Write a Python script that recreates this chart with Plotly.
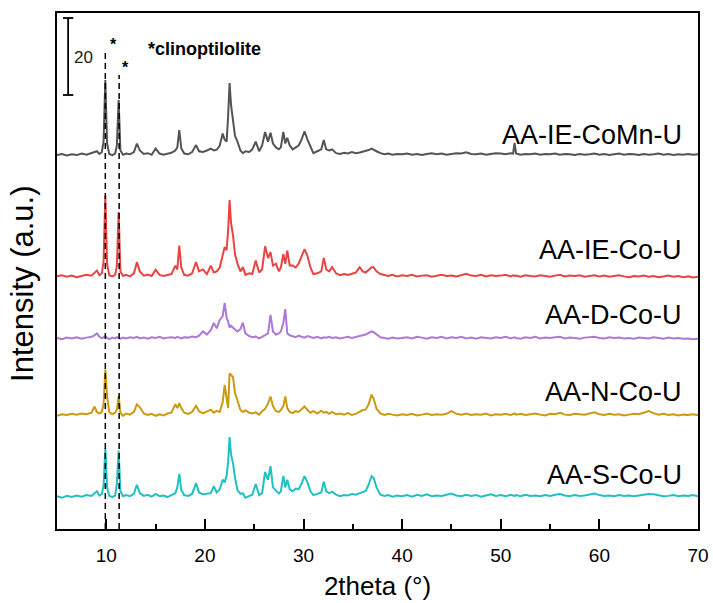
import plotly.graph_objects as go

# ---------------- data ----------------
two_theta = [
    5.0, 5.5, 6.0, 6.5, 7.0, 7.5, 8.0, 8.5, 8.8, 9.05,
    9.3, 9.55, 9.72, 9.9, 10.08, 10.3, 10.6, 10.9, 11.07, 11.25,
    11.43, 11.7, 12.0, 12.4, 12.8, 13.1, 13.4, 13.8, 14.2, 14.6,
    15.0, 15.4, 15.8, 16.2, 16.6, 17.0, 17.2, 17.4, 17.6, 17.9,
    18.3, 18.7, 19.1, 19.4, 19.8, 20.2, 20.6, 20.9, 21.2, 21.5,
    21.8, 22.0, 22.2, 22.35, 22.5, 22.65, 22.85, 23.05, 23.3, 23.6,
    23.85, 24.1, 24.5, 24.8, 25.15, 25.5, 25.8, 26.1, 26.4, 26.65,
    26.9, 27.2, 27.5, 27.7, 27.95, 28.15, 28.35, 28.6, 28.9, 29.2,
    29.5, 29.8, 30.1, 30.4, 30.7, 31.0, 31.4, 31.8, 32.05, 32.3,
    32.6, 32.9, 33.3, 33.7, 34.1, 34.5, 34.9, 35.3, 35.7, 36.0,
    36.3, 36.6, 36.9, 37.1, 37.4, 37.8, 38.2, 38.6, 39.0, 39.5,
    40.0, 40.5, 41.0, 41.5, 42.0, 42.5, 43.0, 43.5, 44.0, 44.5,
    45.0, 45.5, 46.0, 46.5, 47.0, 47.5, 48.0, 48.5, 49.0, 49.5,
    50.0, 50.5, 51.0, 51.25, 51.4, 51.55, 52.0, 52.5, 53.0, 53.5,
    54.0, 54.5, 55.0, 55.5, 56.0, 56.5, 57.0, 57.5, 58.0, 58.5,
    59.0, 59.5, 60.0, 60.5, 61.0, 61.5, 62.0, 62.5, 63.0, 63.5,
    64.0, 64.5, 65.0, 65.5, 66.0, 66.5, 67.0, 67.5, 68.0, 68.5,
    69.0, 69.5, 70.0,
]

aa_ie_comn_u = [
    0.0, 0.3, -0.1, 0.2, 0.0, 0.4, 0.1, 0.5, 0.6, 1.0,
    0.3, 0.8, 3.5, 19.5, 3.0, 0.3, 0.0, 0.4, 2.5, 14.3,
    1.2, 0.1, 0.4, 0.2, 0.8, 3.0, 1.2, 0.3, 0.5, 0.1,
    1.7, 0.4, 0.1, 0.3, 0.6, 1.2, 2.0, 6.5, 1.8, 0.4,
    0.2, 0.8, 2.6, 1.0, 0.8, 1.2, 1.7, 1.2, 1.4, 2.5,
    5.6, 4.0, 3.5, 10.0, 18.7, 13.0, 9.0, 5.0, 3.5, 1.2,
    0.5, 1.0, 0.8, 1.5, 3.5, 1.0, 2.5, 6.0, 3.5, 5.8,
    3.0, 2.0, 1.5, 2.0, 6.0, 3.0, 4.5, 2.5, 1.5, 2.0,
    2.5, 4.0, 6.2, 4.0, 2.0, 0.5, 1.0, 1.5, 3.9, 1.5,
    1.2, 1.5, 0.5, 0.3, 0.6, 0.4, 0.8, 0.5, 0.7, 0.9,
    1.0, 1.3, 1.7, 1.5, 1.0, 0.5, 0.2, 0.4, 0.1, 0.3,
    0.2, 0.4, 0.1, 0.3, 0.0, 0.3, 0.5, 0.2, 0.4, 0.1,
    0.3, 0.5, 0.4, 0.7, 0.3, 0.2, 0.4, 0.1, 0.3, 0.5,
    0.4, 0.2, 0.5, 0.4, 3.2, 0.4, 0.1, 0.3, 0.2, 0.4,
    0.1, 0.3, 0.2, 0.4, 0.1, 0.3, 0.2, 0.0, 0.3, 0.1,
    0.2, 0.4, 0.1, 0.3, 0.0, 0.2, 0.4, 0.1, 0.3, 0.2,
    0.0, 0.3, 0.1, 0.2, 0.4, 0.1, 0.3, 0.0, 0.2, 0.1,
    0.3, 0.1, 0.2,
]

aa_ie_co_u = [
    0.2, 0.5, 0.1, 0.4, 0.0, 0.3, 0.6, 0.4, 1.2, 1.7,
    0.5, 1.0, 4.0, 21.2, 3.5, 0.5, 0.2, 0.6, 3.0, 16.9,
    1.5, 0.3, 0.6, 0.2, 1.0, 3.9, 1.5, 0.4, 0.7, 0.3,
    1.9, 0.6, 0.3, 0.5, 0.8, 3.0, 2.0, 8.2, 2.5, 0.6,
    0.4, 1.0, 3.9, 1.5, 2.0, 0.8, 3.0, 1.2, 1.5, 2.5,
    6.0, 7.8, 7.0, 12.0, 20.0, 14.0, 10.8, 6.0, 3.5, 1.5,
    2.6, 0.6, 1.0, 0.8, 4.3, 1.2, 2.0, 8.0, 5.0, 6.5,
    3.0, 3.5, 1.5, 2.5, 6.0, 3.5, 6.9, 3.0, 3.0, 2.5,
    3.5, 5.5, 7.3, 5.5, 2.5, 0.8, 1.0, 1.5, 5.0, 2.0,
    1.5, 2.6, 1.0, 0.5, 0.8, 0.6, 1.0, 1.2, 2.6, 1.5,
    1.2, 2.0, 2.6, 2.6, 1.5, 0.8, 0.5, 0.3, 0.6, 0.2,
    0.5, 0.3, 0.6, 0.2, 0.4, 0.5, 0.1, 0.4, 0.6, 0.3,
    0.4, 0.2, 0.5, 0.9, 0.4, 0.3, 0.6, 0.2, 0.5, 0.3,
    0.4, 0.6, 0.2, 0.5, 0.3, 0.4, 0.1, 0.5, 0.3, 0.2,
    0.5, 0.3, 0.1, 0.4, 0.6, 0.2, 0.4, 0.3, 0.5, 0.1,
    0.3, 0.5, 0.2, 0.4, 0.1, 0.3, 0.5, 0.2, 0.0, 0.3,
    0.2, 0.4, 0.1, 0.3, 0.0, 0.2, 0.4, 0.1, 0.3, 0.0,
    0.2, -0.1, 0.1,
]

aa_d_co_u = [
    0.3, 0.0, 0.4, 0.2, 0.5, 0.1, 0.4, 0.6, 1.0, 1.5,
    0.6, 0.2, 0.5, 0.8, 0.3, 0.0, 0.4, 0.2, 0.5, 0.3,
    0.1, 0.4, 0.2, 0.5, 0.3, 0.6, 0.2, 0.4, 0.1, 0.5,
    0.3, 0.6, 0.2, 0.4, 0.5, 0.3, 0.6, 0.4, 0.2, 0.5,
    0.4, 0.7, 0.5, 0.9, 2.0, 1.2, 2.4, 4.2, 2.8, 5.0,
    6.0, 9.4, 5.5, 4.6, 3.0, 3.5, 2.9, 2.5, 2.0, 2.6,
    4.3, 1.5, 0.8, 0.5, 0.7, 0.2, 0.6, 1.0, 1.5, 6.3,
    2.0, 1.2, 1.5, 2.0, 4.2, 7.8, 1.5, 1.0, 0.8, 0.5,
    0.9, 0.6, 0.4, 0.8, 0.5, 0.3, 0.6, 0.2, 0.5, 0.4,
    0.6, 0.3, 0.5, 0.2, 0.4, 0.6, 0.3, 0.5, 0.7, 1.0,
    1.2, 1.6, 2.0, 1.8, 1.2, 0.5, 0.3, 0.1, 0.4, 0.2,
    0.3, 0.5, 0.2, 0.6, 0.4, 0.1, 0.5, 0.3, 0.6, 0.2,
    0.5, 0.3, 0.6, 0.2, 0.4, 0.1, 0.5, 0.3, 0.2, 0.5,
    0.3, 0.6, 0.2, 0.4, 0.5, 0.3, 0.1, 0.5, 0.3, 0.6,
    0.2, 0.4, 0.3, 0.5, 0.6, 0.2, 0.4, 0.3, 0.1, 0.4,
    0.5, 0.6, 0.3, 0.2, 0.5, 0.3, 0.4, 0.2, 0.3, 0.1,
    0.4, 0.3, 0.2, 0.5, 0.3, 0.1, 0.4, 0.2, 0.3, 0.1,
    0.2, 0.0, 0.1,
]

aa_n_co_u = [
    0.0, 0.4, 0.2, 0.5, 0.3, 0.6, 0.4, 0.8, 2.4, 1.0,
    0.6, 1.0, 3.0, 12.0, 5.0, 1.0, 0.4, 0.8, 1.5, 5.2,
    0.8, 0.0, 0.6, 0.3, 1.0, 3.0, 2.2, 0.6, 0.2, 0.5,
    0.0, 0.4, 0.1, 0.6, 0.8, 3.0, 2.0, 3.3, 2.0, 0.8,
    0.5, 1.0, 2.6, 1.2, 0.6, 1.0, 1.6, 0.8, 1.3, 1.0,
    3.5, 8.0, 4.0, 2.0, 11.0, 10.5, 10.0, 6.0, 4.0, 1.5,
    1.0, 1.4, 0.8, 0.6, 0.9, 0.3, 1.2, 1.8, 3.2, 5.0,
    2.5, 1.2, 1.0, 1.5, 2.5, 5.0, 2.0, 1.0, 0.7, 1.2,
    1.0, 1.8, 2.4, 1.5, 0.8, 1.2, 0.6, 1.3, 0.8, 1.0,
    0.5, 1.0, 0.4, 0.6, 0.3, 0.7, 0.2, 0.5, 1.0, 1.5,
    1.6, 3.0, 5.5, 4.5, 1.8, 0.6, 0.2, 0.5, 0.3, 0.1,
    0.4, 0.2, 0.5, 0.1, 0.3, 0.6, 0.2, 0.4, 0.3, 0.5,
    1.2, 0.5, 0.3, 0.6, 0.2, 0.4, 0.3, 0.6, 0.1, 0.4,
    0.3, 0.5, 0.2, 0.4, 0.6, 0.3, 0.5, 0.2, 0.4, 0.6,
    0.3, 0.1, 0.5, 0.4, 0.8, 0.3, 0.2, 0.5, 0.4, 0.3,
    0.6, 0.9, 0.4, 0.2, 0.5, 0.3, 0.4, 0.1, 0.3, 0.5,
    0.4, 0.8, 1.2, 0.7, 0.3, 0.5, 0.2, 0.4, 0.1, 0.3,
    0.2, 0.4, 0.1,
]

aa_s_co_u = [
    0.2, -0.2, 0.3, 0.0, 0.4, 0.1, 0.5, 0.3, 1.0, 1.5,
    0.4, 0.8, 3.0, 12.7, 2.5, 0.3, 0.0, 0.4, 3.5, 12.1,
    1.5, 0.2, 0.5, 0.2, 0.9, 3.2, 1.0, 0.3, 0.6, 0.1,
    0.8, 0.2, 0.4, 0.0, 0.5, 1.0, 2.5, 6.0, 1.8, 0.5,
    0.3, 0.8, 3.6, 1.2, 0.7, 0.9, 1.0, 2.8, 1.2, 2.0,
    4.5, 3.8, 5.5, 9.0, 15.6, 11.0, 8.8, 5.0, 1.8, 0.8,
    1.0, -0.2, 0.3, 0.6, 3.4, 0.5, 1.0, 6.5, 4.5, 8.0,
    2.5, 1.8, 0.9, 1.5, 5.5, 2.5, 4.5, 2.0, 1.5, 2.2,
    2.0, 3.5, 5.4, 3.8, 1.5, 0.5, 0.9, 1.2, 4.0, 1.5,
    1.0, 1.4, 0.6, 0.2, 0.5, 0.4, 0.8, 0.6, 1.0, 1.3,
    1.6, 3.2, 5.4, 5.0, 2.5, 0.6, 0.3, 0.5, 0.1, 0.4,
    0.2, 0.5, 0.1, 0.6, 0.3, 0.7, 0.2, 0.4, 0.3, 0.6,
    0.9, 0.4, 0.2, 0.6, 0.3, 0.5, 0.1, 0.4, 0.7, 0.3,
    0.5, 0.2, 0.6, 0.4, 0.3, 0.5, 0.2, 0.6, 0.3, 0.4,
    0.2, 0.5, 0.3, 0.6, 0.8, 0.4, 0.2, 0.5, 0.3, 0.4,
    0.6, 0.9, 0.5, 0.3, 0.4, 0.2, 0.5, 0.3, 0.4, 0.2,
    0.4, 0.6, 0.8, 0.7, 0.4, 0.2, 0.3, 0.5, 0.2, 0.4,
    0.3, 0.5, 0.2,
]

sample_names = ["AA-IE-CoMn-U", "AA-IE-Co-U", "AA-D-Co-U", "AA-N-Co-U", "AA-S-Co-U"]
sample_data = [aa_ie_comn_u, aa_ie_co_u, aa_d_co_u, aa_n_co_u, aa_s_co_u]
stack_offsets = [97.1, 65.4, 49.3, 29.4, 8.3]
clinoptilolite_peaks = [9.9, 11.3]
scale_bar_value = 20
x_tick_values = [10, 20, 30, 40, 50, 60, 70]

# ---------------- styles ----------------
colors = ["#545454", "#ea4343", "#ab7ad8", "#c99a12", "#22c0c2"]
label_y = [102.3, 72.4, 55.5, 35.5, 13.9]
FONT = "Liberation Sans, Arial, sans-serif"

fig = go.Figure()
for name, vals, off, col in zip(sample_names, sample_data, stack_offsets, colors):
    fig.add_trace(go.Scatter(
        x=two_theta, y=[v + off for v in vals], mode="lines", name=name,
        line=dict(color=col, width=2), showlegend=False, hoverinfo="skip",
    ))

# dashed reference lines for clinoptilolite
dash_tops = [123.6, 117.9]
for px, top in zip(clinoptilolite_peaks, dash_tops):
    fig.add_shape(type="line", x0=px, x1=px, y0=0, y1=top, xref="x", yref="y",
                  line=dict(color="black", width=1.5, dash="6px,4px"), layer="above")

# asterisks
for ax_, ay_ in [(10.75, 125.8), (11.95, 119.8)]:
    fig.add_annotation(x=ax_, y=ay_, text="<b>*</b>", showarrow=False,
                       font=dict(size=16, color="black", family=FONT),
                       xanchor="center", yanchor="middle")

fig.add_annotation(x=14.0, y=124.7, text="<b>*clinoptilolite</b>", showarrow=False,
                   font=dict(size=18, color="black", family=FONT),
                   xanchor="left", yanchor="middle")

# scale bar
bar_x, bar_y0 = 6.13, 112.7
fig.add_shape(type="line", x0=bar_x, x1=bar_x, y0=bar_y0, y1=bar_y0 + scale_bar_value,
              line=dict(color="black", width=1.8))
for yy in (bar_y0, bar_y0 + scale_bar_value):
    fig.add_shape(type="line", x0=bar_x - 0.52, x1=bar_x + 0.52, y0=yy, y1=yy,
                  line=dict(color="black", width=1.8))
fig.add_annotation(x=6.55, y=122.5, text=str(scale_bar_value), showarrow=False,
                   font=dict(size=17, color="#222222", family=FONT),
                   xanchor="left", yanchor="middle")

# sample labels
for name, ly in zip(sample_names, label_y):
    fig.add_annotation(x=68.6, y=ly, text=name, showarrow=False,
                       font=dict(size=27, color="black", family=FONT),
                       xanchor="right", yanchor="middle")

# y-axis title
fig.add_annotation(x=-0.053, y=0.475, xref="paper", yref="paper",
                   text="Intensity (a.u.)", textangle=-90, showarrow=False,
                   font=dict(size=31, color="black", family=FONT),
                   xanchor="center", yanchor="middle")

fig.update_layout(
    width=713, height=603,
    margin=dict(l=57, r=15, t=13, b=74, autoexpand=False),
    paper_bgcolor="white", plot_bgcolor="white",
    font=dict(family=FONT, color="black"),
    xaxis=dict(
        range=[5, 70], tickvals=x_tick_values, ticks="inside", ticklen=10, tickwidth=2,
        tickcolor="black", showline=True, linecolor="black", linewidth=1.8, mirror=True,
        showgrid=False, zeroline=False, tickfont=dict(size=19, color="black"),
        ticklabelstandoff=8, automargin=False,
        minor=dict(dtick=5, tick0=0, ticks="inside", ticklen=5, tickwidth=2, tickcolor="black"),
        title=dict(text="2theta (°)", font=dict(size=26, color="black"), standoff=12),
    ),
    yaxis=dict(
        range=[0, 134], showticklabels=False, ticks="", showline=True, linecolor="black",
        linewidth=1.8, mirror=True, showgrid=False, zeroline=False, automargin=False,
    ),
)

fig.write_html(
    "out.html",
    config={"displayModeBar": False},
    post_script="document.body.style.margin='0';document.body.style.overflow='hidden';",
)
